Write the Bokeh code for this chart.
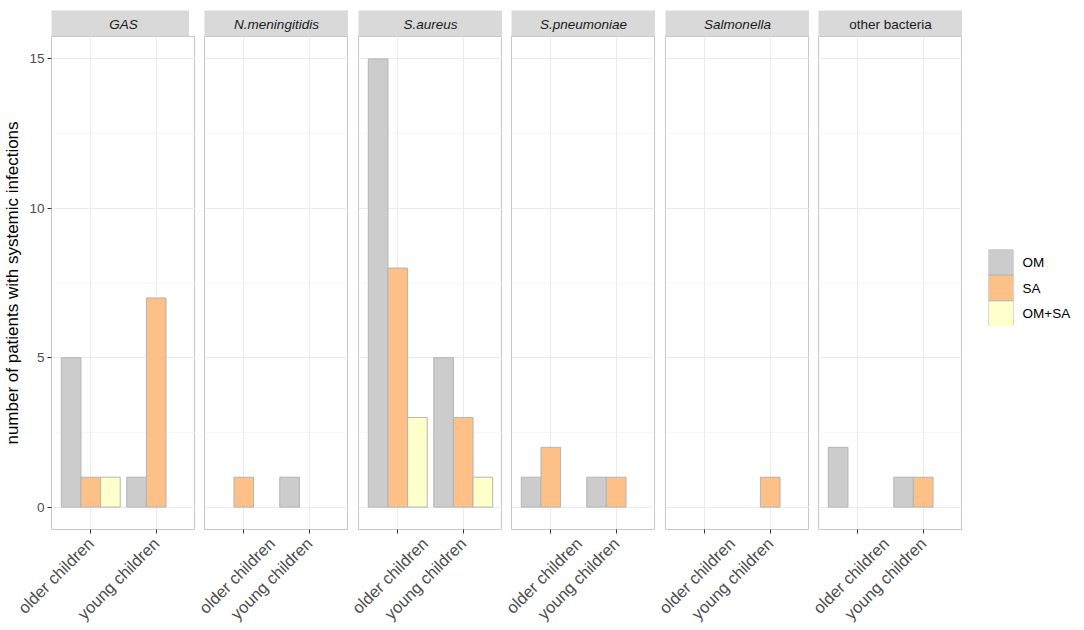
import math
from bokeh.plotting import figure
from bokeh.layouts import row, column
from bokeh.models import (ColumnDataSource, FactorRange, Range1d, FixedTicker,
                          CDSView, BooleanFilter)
from bokeh.transform import dodge
from bokeh.core.properties import value
from bokeh.embed import file_html
from bokeh.resources import INLINE

# ---- data ----
pathogens = ["GAS", "N.meningitidis", "S.aureus", "S.pneumoniae", "Salmonella", "other bacteria"]
italic_strip = [True, True, True, True, True, False]
age_groups = ["older children", "young children"]
infection_types = ["OM", "SA", "OM+SA"]
# counts per pathogen: [older children, young children]
om_counts = [[5, 1], [0, 1], [15, 5], [1, 1], [0, 0], [2, 1]]
sa_counts = [[1, 7], [1, 0], [8, 3], [2, 1], [0, 1], [0, 1]]
omsa_counts = [[1, 0], [0, 0], [3, 1], [0, 0], [0, 0], [0, 0]]
y_ticks = [0, 5, 10, 15]
y_minor = [2.5, 7.5, 12.5]

series = [om_counts, sa_counts, omsa_counts]
fills = ["#CCCCCC", "#FDC086", "#FFFFCC"]
offsets = [-0.3, 0.0, 0.3]
bar_line = "#B5B5B5"
FONT = "Liberation Sans"

FW, FH = 144, 493
gaps = [45, 9, 10, 9, 10, 9]

cols = []
for i, name in enumerate(pathogens):
    left = gaps[i]
    # strip
    s = figure(frame_width=FW, frame_height=26, x_range=Range1d(0, 1), y_range=Range1d(0, 1),
               toolbar_location=None, output_backend="svg",
               x_axis_location=None, y_axis_location=None,
               min_border_left=left, min_border_right=0, min_border_top=10, min_border_bottom=0)
    s.background_fill_color = "#D9D9D9"
    s.outline_line_color = None
    s.xgrid.visible = False
    s.ygrid.visible = False
    s.text(x=[0.5], y=[0.45], text=[name], text_align="center", text_baseline="middle",
           text_font=value(FONT), text_font_size="13.5px", text_color="#1A1A1A",
           text_font_style="italic" if italic_strip[i] else "normal")

    # panel
    p = figure(frame_width=FW, frame_height=FH,
               x_range=FactorRange(factors=age_groups, range_padding=0.1, range_padding_units="absolute"),
               y_range=Range1d(-0.75, 15.75),
               toolbar_location=None, output_backend="svg",
               y_axis_location="left" if i == 0 else None,
               min_border_left=left, min_border_right=0,
               min_border_top=0, min_border_bottom=60)
    p.background_fill_color = "white"
    p.outline_line_color = "#C8C8C8"
    p.outline_line_width = 1

    for k, counts in enumerate(series):
        src = ColumnDataSource(dict(age=list(age_groups), count=list(counts[i])))
        view = CDSView(filter=BooleanFilter([c > 0 for c in counts[i]]))
        p.vbar(x=dodge("age", offsets[k], range=p.x_range), top="count", bottom=0,
               width=0.3, source=src, view=view,
               fill_color=fills[k], line_color=bar_line, line_width=1)

    # grids
    p.xgrid.grid_line_color = "#EBEBEB"
    p.xgrid.grid_line_width = 1
    yg = p.ygrid[0]
    yg.ticker = FixedTicker(ticks=y_ticks, minor_ticks=y_minor)
    yg.grid_line_color = "#EBEBEB"
    yg.grid_line_width = 1
    yg.minor_grid_line_color = "#F2F2F2"
    yg.minor_grid_line_width = 0.6

    # x axis
    xa = p.xaxis[0]
    xa.axis_line_color = None
    xa.major_tick_line_color = "#333333"
    xa.major_tick_out = 4
    xa.major_tick_in = 0
    xa.major_label_orientation = math.pi / 4
    xa.major_label_text_font = FONT
    xa.major_label_text_font_size = "16.5px"
    xa.major_label_text_color = "#4D4D4D"
    xa.major_label_standoff = 7

    if i == 0:
        ya = p.yaxis[0]
        ya.ticker = FixedTicker(ticks=y_ticks, minor_ticks=y_minor)
        ya.axis_line_color = None
        ya.major_tick_line_color = "#333333"
        ya.major_tick_out = 4
        ya.major_tick_in = 0
        ya.minor_tick_line_color = None
        ya.major_label_text_font = FONT
        ya.major_label_text_font_size = "13.5px"
        ya.major_label_text_color = "#4D4D4D"
        ya.major_label_standoff = 3
        ya.axis_label = "number of patients with systemic infections"
        ya.axis_label_text_font = FONT
        ya.axis_label_text_font_size = "17px"
        ya.axis_label_text_font_style = "normal"
        ya.axis_label_text_color = "#000000"
        ya.axis_label_standoff = 4

    cols.append(column(s, p, spacing=0))

# ---- legend as a small keyed figure ----
lg = figure(frame_width=25, frame_height=77,
            x_range=Range1d(0, 1), y_range=FactorRange(factors=infection_types[::-1]),
            toolbar_location=None, output_backend="svg",
            x_axis_location=None, y_axis_location="right",
            min_border_left=26, min_border_right=0, min_border_top=249, min_border_bottom=0)
lg.outline_line_color = None
lg.background_fill_color = None
lg.border_fill_color = None
lg.xgrid.visible = False
lg.ygrid.visible = False
lg.hbar(y=infection_types, left=0, right=1, height=1,
        fill_color=fills, line_color=bar_line, line_width=1)
la = lg.yaxis[0]
la.axis_line_color = None
la.major_tick_line_color = None
la.major_tick_out = 0
la.major_tick_in = 0
la.major_label_standoff = 9
la.major_label_text_font = FONT
la.major_label_text_font_size = "13.5px"
la.major_label_text_color = "#000000"

layout = row(*cols, lg, spacing=0)
open("out.html", "w").write(file_html(layout, INLINE))
